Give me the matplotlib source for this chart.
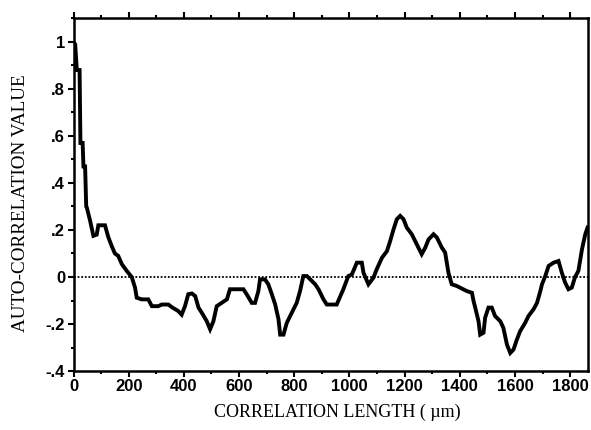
import numpy as np
import matplotlib
matplotlib.use("Agg")
import matplotlib.pyplot as plt
from matplotlib.ticker import MultipleLocator, FixedFormatter, FixedLocator

# autocorrelation trace, lag in micrometres
lag = [0, 6, 12, 22, 25, 33, 36, 42, 46, 48, 60, 72, 84, 90, 114, 126, 139, 150,
       162, 175, 193, 211, 223, 229, 247, 271, 284, 307, 320, 344, 356, 380, 392,
       404, 416, 429, 441, 453, 465, 483, 495, 507, 519, 537, 556, 567, 592, 616,
       628, 646, 658, 670, 676, 694, 706, 719, 731, 743, 749, 761, 773, 785, 797,
       809, 821, 833, 846, 858, 876, 888, 906, 918, 954, 978, 996, 1009, 1027,
       1045, 1051, 1069, 1087, 1099, 1118, 1136, 1148, 1160, 1172, 1184, 1196,
       1208, 1226, 1244, 1262, 1275, 1287, 1305, 1317, 1335, 1347, 1359, 1371,
       1389, 1401, 1426, 1444, 1450, 1456, 1468, 1474, 1486, 1492, 1504, 1516,
       1528, 1547, 1558, 1571, 1583, 1595, 1607, 1619, 1637, 1649, 1667, 1680,
       1692, 1698, 1710, 1722, 1740, 1758, 1770, 1782, 1794, 1806, 1818, 1830,
       1843, 1855, 1863]
acf = [1.0, 0.99, 0.88, 0.88, 0.57, 0.57, 0.47, 0.47, 0.30, 0.296, 0.24, 0.175,
       0.18, 0.22, 0.22, 0.17, 0.13, 0.10, 0.09, 0.055, 0.026, 0.0, -0.045,
       -0.088, -0.095, -0.095, -0.124, -0.124, -0.117, -0.117, -0.128, -0.145,
       -0.16, -0.124, -0.073, -0.07, -0.081, -0.13, -0.152, -0.188, -0.222,
       -0.188, -0.124, -0.11, -0.095, -0.052, -0.052, -0.052, -0.074, -0.11,
       -0.11, -0.06, -0.01, -0.01, -0.031, -0.074, -0.117, -0.18, -0.245,
       -0.245, -0.195, -0.166, -0.138, -0.11, -0.06, 0.004, 0.004, -0.01,
       -0.031, -0.052, -0.095, -0.117, -0.117, -0.052, 0.004, 0.011, 0.061,
       0.061, 0.018, -0.031, -0.003, 0.033, 0.082, 0.11, 0.154, 0.203, 0.246,
       0.26, 0.246, 0.21, 0.182, 0.139, 0.097, 0.125, 0.16, 0.182, 0.168, 0.125,
       0.104, 0.018, -0.031, -0.038, -0.045, -0.06, -0.067, -0.102, -0.13,
       -0.188, -0.245, -0.237, -0.173, -0.13, -0.13, -0.166, -0.188, -0.216,
       -0.287, -0.323, -0.308, -0.266, -0.23, -0.195, -0.166, -0.138, -0.11,
       -0.06, -0.031, 0.004, 0.047, 0.061, 0.068, 0.018, -0.024, -0.052,
       -0.045, 0.0, 0.026, 0.118, 0.182, 0.21]

x_ticks = [0, 200, 400, 600, 800, 1000, 1200, 1400, 1600, 1800]
y_ticks = [-0.4, -0.2, 0, 0.2, 0.4, 0.6, 0.8, 1.0]
y_tick_labels = ["-.4", "-.2", "0", ".2", ".4", ".6", ".8", "1"]

fig = plt.figure(figsize=(5.91, 4.30), dpi=100)
ax = fig.add_axes([0.1244, 0.137, 0.8706, 0.8204])

ax.axhline(0, color="black", lw=1.3, ls=(0, (1, 1)), zorder=1)
ax.plot(lag, acf, color="black", lw=2.8, solid_joinstyle="miter", zorder=3)

ax.set_xlim(0, 1865)
ax.set_ylim(-0.4, 1.1)

for s in ax.spines.values():
    s.set_linewidth(1.8)

ax.xaxis.set_major_locator(FixedLocator(x_ticks))
ax.xaxis.set_minor_locator(MultipleLocator(100))
ax.yaxis.set_major_locator(FixedLocator(y_ticks))
ax.yaxis.set_major_formatter(FixedFormatter(y_tick_labels))
ax.yaxis.set_minor_locator(MultipleLocator(0.1))

ax.tick_params(axis="x", which="both", direction="out", top=True, bottom=True,
               width=1.5)
ax.tick_params(axis="x", which="major", length=4, pad=2)
ax.tick_params(axis="x", which="minor", length=2.5)
ax.tick_params(axis="y", which="both", direction="out", left=True, right=False,
               width=1.5)
ax.tick_params(axis="y", which="major", length=4, pad=2)
ax.tick_params(axis="y", which="minor", length=2.5)

for lab in ax.get_xticklabels() + ax.get_yticklabels():
    lab.set_fontfamily("Liberation Sans")
    lab.set_fontweight("bold")
    lab.set_fontsize(12)

ax.set_xlabel("CORRELATION LENGTH ( \u00b5m)", family="Liberation Serif",
              fontsize=13)
ax.set_ylabel("AUTO-CORRELATION VALUE", family="Liberation Serif",
              fontsize=13.8)
ax.xaxis.set_label_coords(0.512, -0.093)
ax.yaxis.set_label_coords(-0.087, 0.476)

fig.savefig("out.png", dpi=100)
